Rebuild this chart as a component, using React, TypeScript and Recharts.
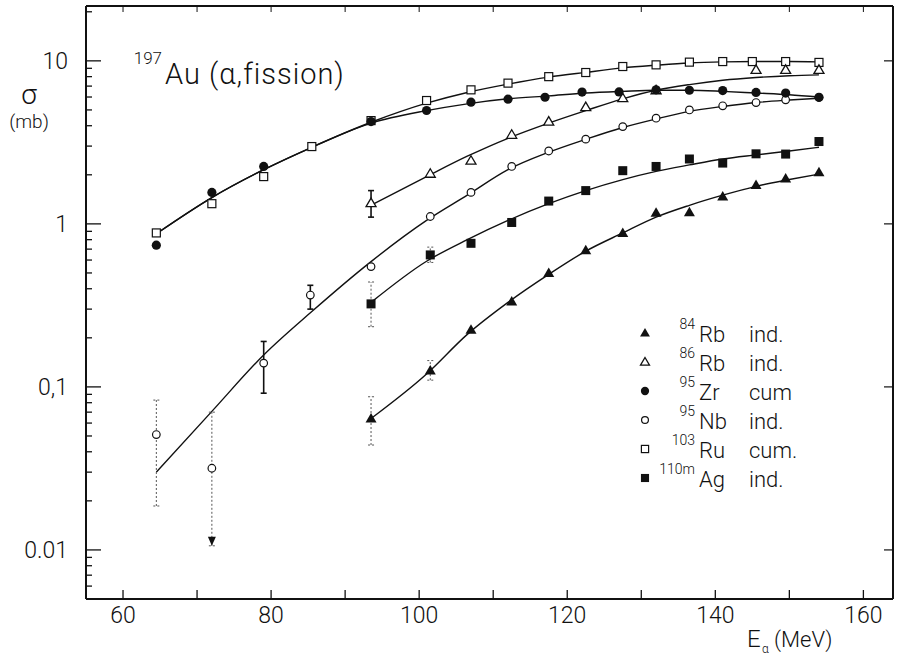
/**
 * 197Au(α,fission) cross-section chart
 *
 * Log-scale σ (mb) vs alpha energy, with fitted curves,
 * six product nuclides and a few error bars.
 */

import type { FC } from "react";
import { ComposedChart, Line, Scatter, XAxis, YAxis, ErrorBar } from "recharts";

const RB84_E = [93.5, 101.5, 107, 112.5, 117.5, 122.5, 127.5, 132, 136.5, 141, 145.5, 149.5, 154];
const RB84_SIG = [0.064, 0.126, 0.224, 0.334, 0.5, 0.69, 0.88, 1.17, 1.18, 1.47, 1.73, 1.9, 2.07];

const RB86_E = [93.5, 101.5, 107, 112.5, 117.5, 122.5, 127.5, 132, 145.5, 149.5, 154];
const RB86_SIG = [1.34, 2.03, 2.44, 3.52, 4.24, 5.2, 5.9, 6.6, 8.8, 8.8, 8.8];

const ZR_E = [64.5, 72, 79, 93.5, 101, 107, 112, 117, 122, 127, 132, 136.5, 141, 145.5, 149.5, 154];
const ZR_SIG = [0.74, 1.56, 2.25, 4.24, 4.96, 5.58, 5.82, 5.98, 6.43, 6.45, 6.64, 6.6, 6.57, 6.4, 6.34, 5.98];

const NB_E = [64.5, 72, 79, 85.3, 93.5, 101.5, 107, 112.5, 117.5, 122.5, 127.5, 132, 136.5, 141, 145.5, 149.5, 154];
const NB_SIG = [0.051, 0.0317, 0.14, 0.366, 0.547, 1.11, 1.56, 2.25, 2.8, 3.31, 3.95, 4.45, 5.0, 5.3, 5.55, 5.77, 5.96];

const RU_E = [64.5, 72, 79, 85.5, 93.5, 101, 107, 112, 117.5, 122.5, 127.5, 132, 136.5, 141, 145, 149.5, 154];
const RU_SIG = [0.88, 1.33, 1.95, 2.98, 4.3, 5.71, 6.64, 7.3, 8.0, 8.48, 9.23, 9.45, 9.82, 9.9, 9.9, 9.9, 9.78];

const AG_E = [93.5, 101.5, 107, 112.5, 117.5, 122.5, 127.5, 132, 136.5, 141, 145.5, 149.5, 154];
const AG_SIG = [0.323, 0.645, 0.76, 1.02, 1.38, 1.6, 2.12, 2.25, 2.5, 2.36, 2.69, 2.68, 3.2];

// === Fitted curves ===
const FIT_E = [64.5, 72, 79, 85.5, 93.5, 101, 106.5, 112, 117.5, 122.5, 127.5, 132, 136.5, 141, 145.5, 150, 154];
const NB_FIT = [0.03, 0.0708, 0.157, 0.29, 0.587, 1.05, 1.5, 2.15, 2.75, 3.3, 3.9, 4.4, 4.9, 5.25, 5.55, 5.75, 5.9];
const ZR_FIT = [0.87, 1.45, 2.15, 2.95, 4.15, 4.95, 5.45, 5.85, 6.1, 6.35, 6.5, 6.6, 6.6, 6.5, 6.35, 6.2, 6.0];
const RU_FIT = [0.87, 1.45, 2.15, 2.95, 4.2, 5.5, 6.4, 7.2, 7.95, 8.5, 9.05, 9.4, 9.7, 9.85, 9.9, 9.9, 9.85];

const FIT_E_HI = [93.5, 101, 106.5, 112, 117.5, 122.5, 127.5, 132, 136.5, 141, 145.5, 150, 154];
const RB86_FIT = [1.3, 1.95, 2.6, 3.35, 4.15, 4.95, 5.85, 6.6, 7.15, 7.6, 7.9, 8.1, 8.2];
const AG_FIT = [0.33, 0.59, 0.8, 1.05, 1.33, 1.6, 1.87, 2.1, 2.3, 2.5, 2.65, 2.8, 2.95];
const RB84_FIT = [0.064, 0.12, 0.21, 0.33, 0.49, 0.68, 0.88, 1.1, 1.3, 1.5, 1.7, 1.87, 2.02];

// === Error bars ===
const ERR_SOLID_E = [79, 85.3, 93.5];
const ERR_SOLID_SIG = [0.14, 0.366, 1.34];
const ERR_SOLID_LO = [0.0915, 0.3, 1.1];
const ERR_SOLID_HI = [0.19, 0.42, 1.6];

const ERR_DASH_E = [64.5, 72, 93.5, 93.5, 101.5, 101.5];
const ERR_DASH_SIG = [0.051, 0.0317, 0.323, 0.064, 0.645, 0.126];
const ERR_DASH_LO = [0.0186, 0.0106, 0.234, 0.044, 0.58, 0.11];
const ERR_DASH_HI = [0.083, 0.07, 0.44, 0.087, 0.72, 0.145];

// upper-limit arrow tip
const LIMIT_E = [72];
const LIMIT_SIG = [0.0106];

// === Axes ===
const X_DOMAIN: [number, number] = [55, 164];
const X_TICKS = [60, 70, 80, 90, 100, 110, 120, 130, 140, 150, 160];
const Y_DOMAIN: [number, number] = [0.005, 21.7];
const Y_MAJOR = [0.01, 0.1, 1, 10];
const Y_LABELS = ["0.01", "0,1", "1", "10"];
const Y_MINOR = [
  0.006, 0.007, 0.008, 0.009,
  0.02, 0.03, 0.04, 0.05, 0.06, 0.07, 0.08, 0.09,
  0.2, 0.3, 0.4, 0.5, 0.6, 0.7, 0.8, 0.9,
  2, 3, 4, 5, 6, 7, 8, 9, 20,
];

// === Legend ===
const LEGEND_SYMBOL = ["triFilled", "triOpen", "circFilled", "circOpen", "sqOpen", "sqFilled"];
const LEGEND_MASS = ["84", "86", "95", "95", "103", "110m"];
const LEGEND_EL = ["Rb", "Rb", "Zr", "Nb", "Ru", "Ag"];
const LEGEND_TYPE = ["ind.", "ind.", "cum", "ind.", "cum.", "ind."];

const FONT = "Roboto, 'DejaVu Sans', sans-serif";
const INK = "#111";
const LEFT_TICK_MARGIN = 18;

const toPoints = (xs: number[], ys: number[]) => xs.map((x, i) => ({ x, y: ys[i] }));
const toErrPoints = (xs: number[], ys: number[], lo: number[], hi: number[]) =>
  xs.map((x, i) => ({ x, y: ys[i], err: [ys[i] - lo[i], hi[i] - ys[i]] }));

/**
 * Marker glyphs
 */
function symbol(kind: string, cx: number, cy: number, s = 1) {
  switch (kind) {
    case "triFilled":
      return <path d={`M${cx},${cy - 5.5 * s}L${cx + 5.5 * s},${cy + 4 * s}L${cx - 5.5 * s},${cy + 4 * s}Z`} fill={INK} />;
    case "triOpen":
      return (
        <path
          d={`M${cx},${cy - 5 * s}L${cx + 5 * s},${cy + 3.5 * s}L${cx - 5 * s},${cy + 3.5 * s}Z`}
          fill="#fff"
          stroke={INK}
          strokeWidth={1.3}
        />
      );
    case "circFilled":
      return <circle cx={cx} cy={cy} r={4.6 * s} fill={INK} />;
    case "circOpen":
      return <circle cx={cx} cy={cy} r={3.8 * s} fill="#fff" stroke={INK} strokeWidth={1.2} />;
    case "sqOpen":
      return <rect x={cx - 4 * s} y={cy - 4 * s} width={8 * s} height={8 * s} fill="#fff" stroke={INK} strokeWidth={1.2} />;
    case "sqFilled":
      return <rect x={cx - 4.5 * s} y={cy - 4.5 * s} width={9 * s} height={9 * s} fill={INK} />;
    case "arrowDown":
      return <path d={`M${cx},${cy}L${cx + 4},${cy - 9}L${cx - 4},${cy - 9}Z`} fill={INK} />;
    default:
      return <g />;
  }
}

const shapeOf = (kind: string) => (p: any) => symbol(kind, p.cx, p.cy);

/**
 * Left axis tick: long tick + label at decades, short tick otherwise
 */
const LeftTick: FC<any> = ({ x, y, payload }) => {
  const v = payload.value as number;
  const idx = Y_MAJOR.findIndex((m) => Math.abs(m - v) / m < 1e-6);
  const edge = x + LEFT_TICK_MARGIN;
  return (
    <g>
      <line x1={edge} x2={edge + (idx >= 0 ? 15 : 6)} y1={y} y2={y} stroke={INK} strokeWidth={1.3} />
      {idx >= 0 && (
        <text x={x} y={y} dy={8} textAnchor="end" fontSize={23} fontFamily={FONT} fontWeight={300} fill={INK}>
          {Y_LABELS[idx]}
        </text>
      )}
    </g>
  );
};

/**
 * Bottom axis tick: inward tick every 10, label every 20
 */
const BottomTick: FC<any> = ({ x, y, payload }) => {
  const v = payload.value as number;
  return (
    <g>
      <line x1={x} x2={x} y1={y} y2={y - 9} stroke={INK} strokeWidth={1.3} />
      {v % 20 === 0 && (
        <text x={x} y={y + 24} textAnchor="middle" fontSize={23} fontFamily={FONT} fontWeight={300} fill={INK}>
          {v}
        </text>
      )}
    </g>
  );
};

const fitLine = (xs: number[], ys: number[], key: string) => (
  <Line
    key={key}
    xAxisId="bottom"
    yAxisId="left"
    data={toPoints(xs, ys)}
    dataKey="y"
    type="monotone"
    stroke={INK}
    strokeWidth={1.4}
    dot={false}
    activeDot={false}
    isAnimationActive={false}
  />
);

const pointSet = (xs: number[], ys: number[], kind: string) => (
  <Scatter
    key={kind}
    xAxisId="bottom"
    yAxisId="left"
    data={toPoints(xs, ys)}
    dataKey="y"
    shape={shapeOf(kind)}
    isAnimationActive={false}
  />
);

const App: FC = () => {
  return (
    <div style={{ position: "absolute", left: 0, top: 0, width: 900, height: 655, background: "#fff" }}>
      <ComposedChart width={900} height={655} margin={{ top: 0, right: 0, bottom: 0, left: 0 }}>
        <XAxis
          xAxisId="bottom"
          dataKey="x"
          type="number"
          domain={X_DOMAIN}
          allowDataOverflow
          ticks={X_TICKS}
          interval={0}
          height={56}
          tickSize={0}
          tickMargin={0}
          tick={<BottomTick />}
          tickLine={false}
          axisLine={{ stroke: INK, strokeWidth: 2 }}
        />
        <XAxis
          xAxisId="top"
          orientation="top"
          dataKey="x"
          type="number"
          domain={X_DOMAIN}
          allowDataOverflow
          ticks={X_TICKS}
          interval={0}
          height={6}
          tickSize={-6}
          tickFormatter={() => ""}
          tickLine={{ stroke: INK, strokeWidth: 1 }}
          axisLine={{ stroke: INK, strokeWidth: 2 }}
        />
        <YAxis
          yAxisId="left"
          dataKey="y"
          type="number"
          scale="log"
          domain={Y_DOMAIN}
          allowDataOverflow
          ticks={[...Y_MAJOR, ...Y_MINOR]}
          interval={0}
          width={86}
          tickSize={0}
          tickMargin={LEFT_TICK_MARGIN}
          tick={<LeftTick />}
          tickLine={false}
          axisLine={{ stroke: INK, strokeWidth: 2 }}
        />
        <YAxis
          yAxisId="right"
          orientation="right"
          type="number"
          scale="log"
          domain={Y_DOMAIN}
          allowDataOverflow
          ticks={Y_MAJOR}
          interval={0}
          width={7}
          tickSize={-9}
          tickFormatter={() => ""}
          tickLine={{ stroke: INK, strokeWidth: 1.2 }}
          axisLine={{ stroke: INK, strokeWidth: 2 }}
        />

        {/* fitted curves */}
        {fitLine(FIT_E, NB_FIT, "nbfit")}
        {fitLine(FIT_E, ZR_FIT, "zrfit")}
        {fitLine(FIT_E, RU_FIT, "rufit")}
        {fitLine(FIT_E_HI, RB86_FIT, "rb86fit")}
        {fitLine(FIT_E_HI, AG_FIT, "agfit")}
        {fitLine(FIT_E_HI, RB84_FIT, "rb84fit")}

        {/* error bars */}
        <Scatter
          xAxisId="bottom"
          yAxisId="left"
          data={toErrPoints(ERR_SOLID_E, ERR_SOLID_SIG, ERR_SOLID_LO, ERR_SOLID_HI)}
          dataKey="y"
          shape={shapeOf("none")}
          isAnimationActive={false}
        >
          <ErrorBar dataKey="err" direction="y" width={3} stroke={INK} strokeWidth={1.6} isAnimationActive={false} />
        </Scatter>
        <Scatter
          xAxisId="bottom"
          yAxisId="left"
          data={toErrPoints(ERR_DASH_E, ERR_DASH_SIG, ERR_DASH_LO, ERR_DASH_HI)}
          dataKey="y"
          shape={shapeOf("none")}
          isAnimationActive={false}
        >
          <ErrorBar
            dataKey="err"
            direction="y"
            width={3}
            stroke="#555"
            strokeWidth={1}
            strokeDasharray="2 2"
            isAnimationActive={false}
          />
        </Scatter>

        {/* measured points */}
        {pointSet(RU_E, RU_SIG, "sqOpen")}
        {pointSet(NB_E, NB_SIG, "circOpen")}
        {pointSet(RB86_E, RB86_SIG, "triOpen")}
        {pointSet(ZR_E, ZR_SIG, "circFilled")}
        {pointSet(AG_E, AG_SIG, "sqFilled")}
        {pointSet(RB84_E, RB84_SIG, "triFilled")}
        {pointSet(LIMIT_E, LIMIT_SIG, "arrowDown")}
      </ComposedChart>

      {/* title, axis titles and legend */}
      <svg
        width={900}
        height={655}
        style={{ position: "absolute", left: 0, top: 0, pointerEvents: "none" }}
        fontFamily={FONT}
        fontWeight={300}
        fill={INK}
      >
        <text x={162} y={64} fontSize={17} textAnchor="end">197</text>
        <text x={165} y={84} fontSize={29} letterSpacing={1}>Au (α,fission)</text>

        <text x={29} y={104} fontSize={28} textAnchor="middle">σ</text>
        <text x={29} y={128} fontSize={19} textAnchor="middle">(mb)</text>

        <text x={747} y={647} fontSize={24}>E</text>
        <text x={762} y={653} fontSize={12}>α</text>
        <text x={774} y={647} fontSize={22}>(MeV)</text>

        {LEGEND_EL.map((el, i) => {
          const cy = 333 + i * 29;
          return (
            <g key={i}>
              {symbol(LEGEND_SYMBOL[i], 645, cy, 0.9)}
              <text x={695} y={cy - 4} fontSize={14} textAnchor="end">{LEGEND_MASS[i]}</text>
              <text x={699} y={cy + 8.5} fontSize={22}>{el}</text>
              <text x={749} y={cy + 8.5} fontSize={22}>{LEGEND_TYPE[i]}</text>
            </g>
          );
        })}
      </svg>
    </div>
  );
};

export default App;
